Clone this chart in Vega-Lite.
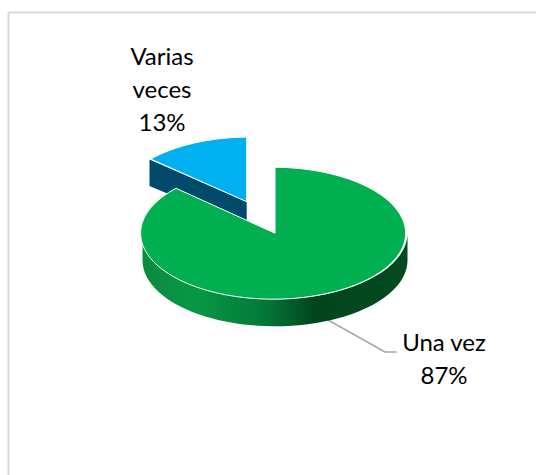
{
  "$schema": "https://vega.github.io/schema/vega-lite/v6.json",
  "width": 528,
  "height": 463,
  "autosize": {"type": "none"},
  "padding": {"left": 8, "top": 12, "right": 0, "bottom": 0},
  "background": "white",
  "config": {"view": {"stroke": null}},
  "data": {"values": [
    {"slice": "Varias veces", "value": 13, "lines": ["Varias", "veces", "13%"]},
    {"slice": "Una vez", "value": 87, "lines": ["Una vez", "87%"]}
  ]},
  "resolve": {"scale": {"x": "independent", "y": "independent", "color": "independent", "shape": "independent"}, "axis": {"x": "independent", "y": "independent"}},
  "layer": [
    {
      "transform": [{"filter": "datum.slice === 'Una vez'"}],
      "mark": {"type": "point", "opacity": 0},
      "encoding": {
        "x": {"datum": 0, "type": "quantitative", "scale": {"domain": [0, 1]}, "axis": {"orient": "top", "ticks": false, "labels": false, "grid": false, "title": null, "domainColor": "#d9d9d9", "domainWidth": 2}},
        "y": {"datum": 1, "type": "quantitative", "scale": {"domain": [0, 1]}, "axis": {"orient": "left", "ticks": false, "labels": false, "grid": false, "title": null, "domainColor": "#d9d9d9", "domainWidth": 2}}
      }
    },
    {
      "transform": [{"filter": "datum.slice === 'Una vez'"}],
      "mark": {"type": "point", "filled": false, "opacity": 1, "size": 4, "stroke": "#a6a6a6", "strokeWidth": 1.5, "shape": "M56 76.5 L113 108.5 L124.7 108.5"},
      "encoding": {}
    },
    {
      "transform": [{"filter": "datum.slice === 'Varias veces'"}],
      "mark": {"type": "point", "filled": true, "opacity": 1, "size": 4, "fill": "#004a6b", "shape": "M-122.5 -84 L-25.3 -41.8 L-25.3 -16.5 L-122.5 -57.5 Z"},
      "encoding": {}
    },
    {
      "transform": [{"filter": "datum.slice === 'Una vez'"}],
      "mark": {
        "type": "point", "filled": true, "opacity": 1, "size": 4,
        "fill": {"x1": 0, "y1": 0, "x2": 1, "y2": 0, "gradient": "linear", "stops": [
          {"offset": 0, "color": "#0b8a40"},
          {"offset": 0.2, "color": "#079845"},
          {"offset": 0.45, "color": "#037a38"},
          {"offset": 0.65, "color": "#02451d"},
          {"offset": 1, "color": "#034a20"}
        ]},
        "shape": "M-129.5 -10.3 A132.5 66 0 0 0 135.5 -10.3 L135.5 16.7 A132.5 66 0 0 1 -129.5 16.7 Z"
      },
      "encoding": {}
    },
    {
      "mark": {"type": "point", "filled": true, "opacity": 1, "size": 4, "stroke": "white", "strokeWidth": 1},
      "encoding": {
        "shape": {"field": "slice", "type": "nominal", "legend": null, "scale": {"domain": ["Varias veces", "Una vez"], "range": [
          "M-25.3 -41.8 L-25.3 -106.5 A132 65 0 0 0 -121.3 -84.5 Z",
          "M3 -10.3 L3 -76.3 A132.5 66 0 1 1 -96 -55.2 Z"
        ]}},
        "fill": {"field": "slice", "type": "nominal", "legend": null, "scale": {"domain": ["Varias veces", "Una vez"], "range": ["#00b0f0", "#00b050"]}}
      }
    },
    {
      "mark": {"type": "text", "font": "Lato", "fontSize": 24, "color": "#000000", "align": "center", "baseline": "middle", "lineHeight": 33},
      "encoding": {
        "text": {"field": "lines"},
        "x": {"field": "slice", "type": "nominal", "axis": null, "scale": {"type": "point", "padding": 0, "domain": ["Varias veces", "Una vez"], "range": [154, 436]}},
        "y": {"field": "slice", "type": "nominal", "axis": null, "scale": {"type": "point", "padding": 0, "domain": ["Varias veces", "Una vez"], "range": [46, 332]}}
      }
    }
  ]
}
